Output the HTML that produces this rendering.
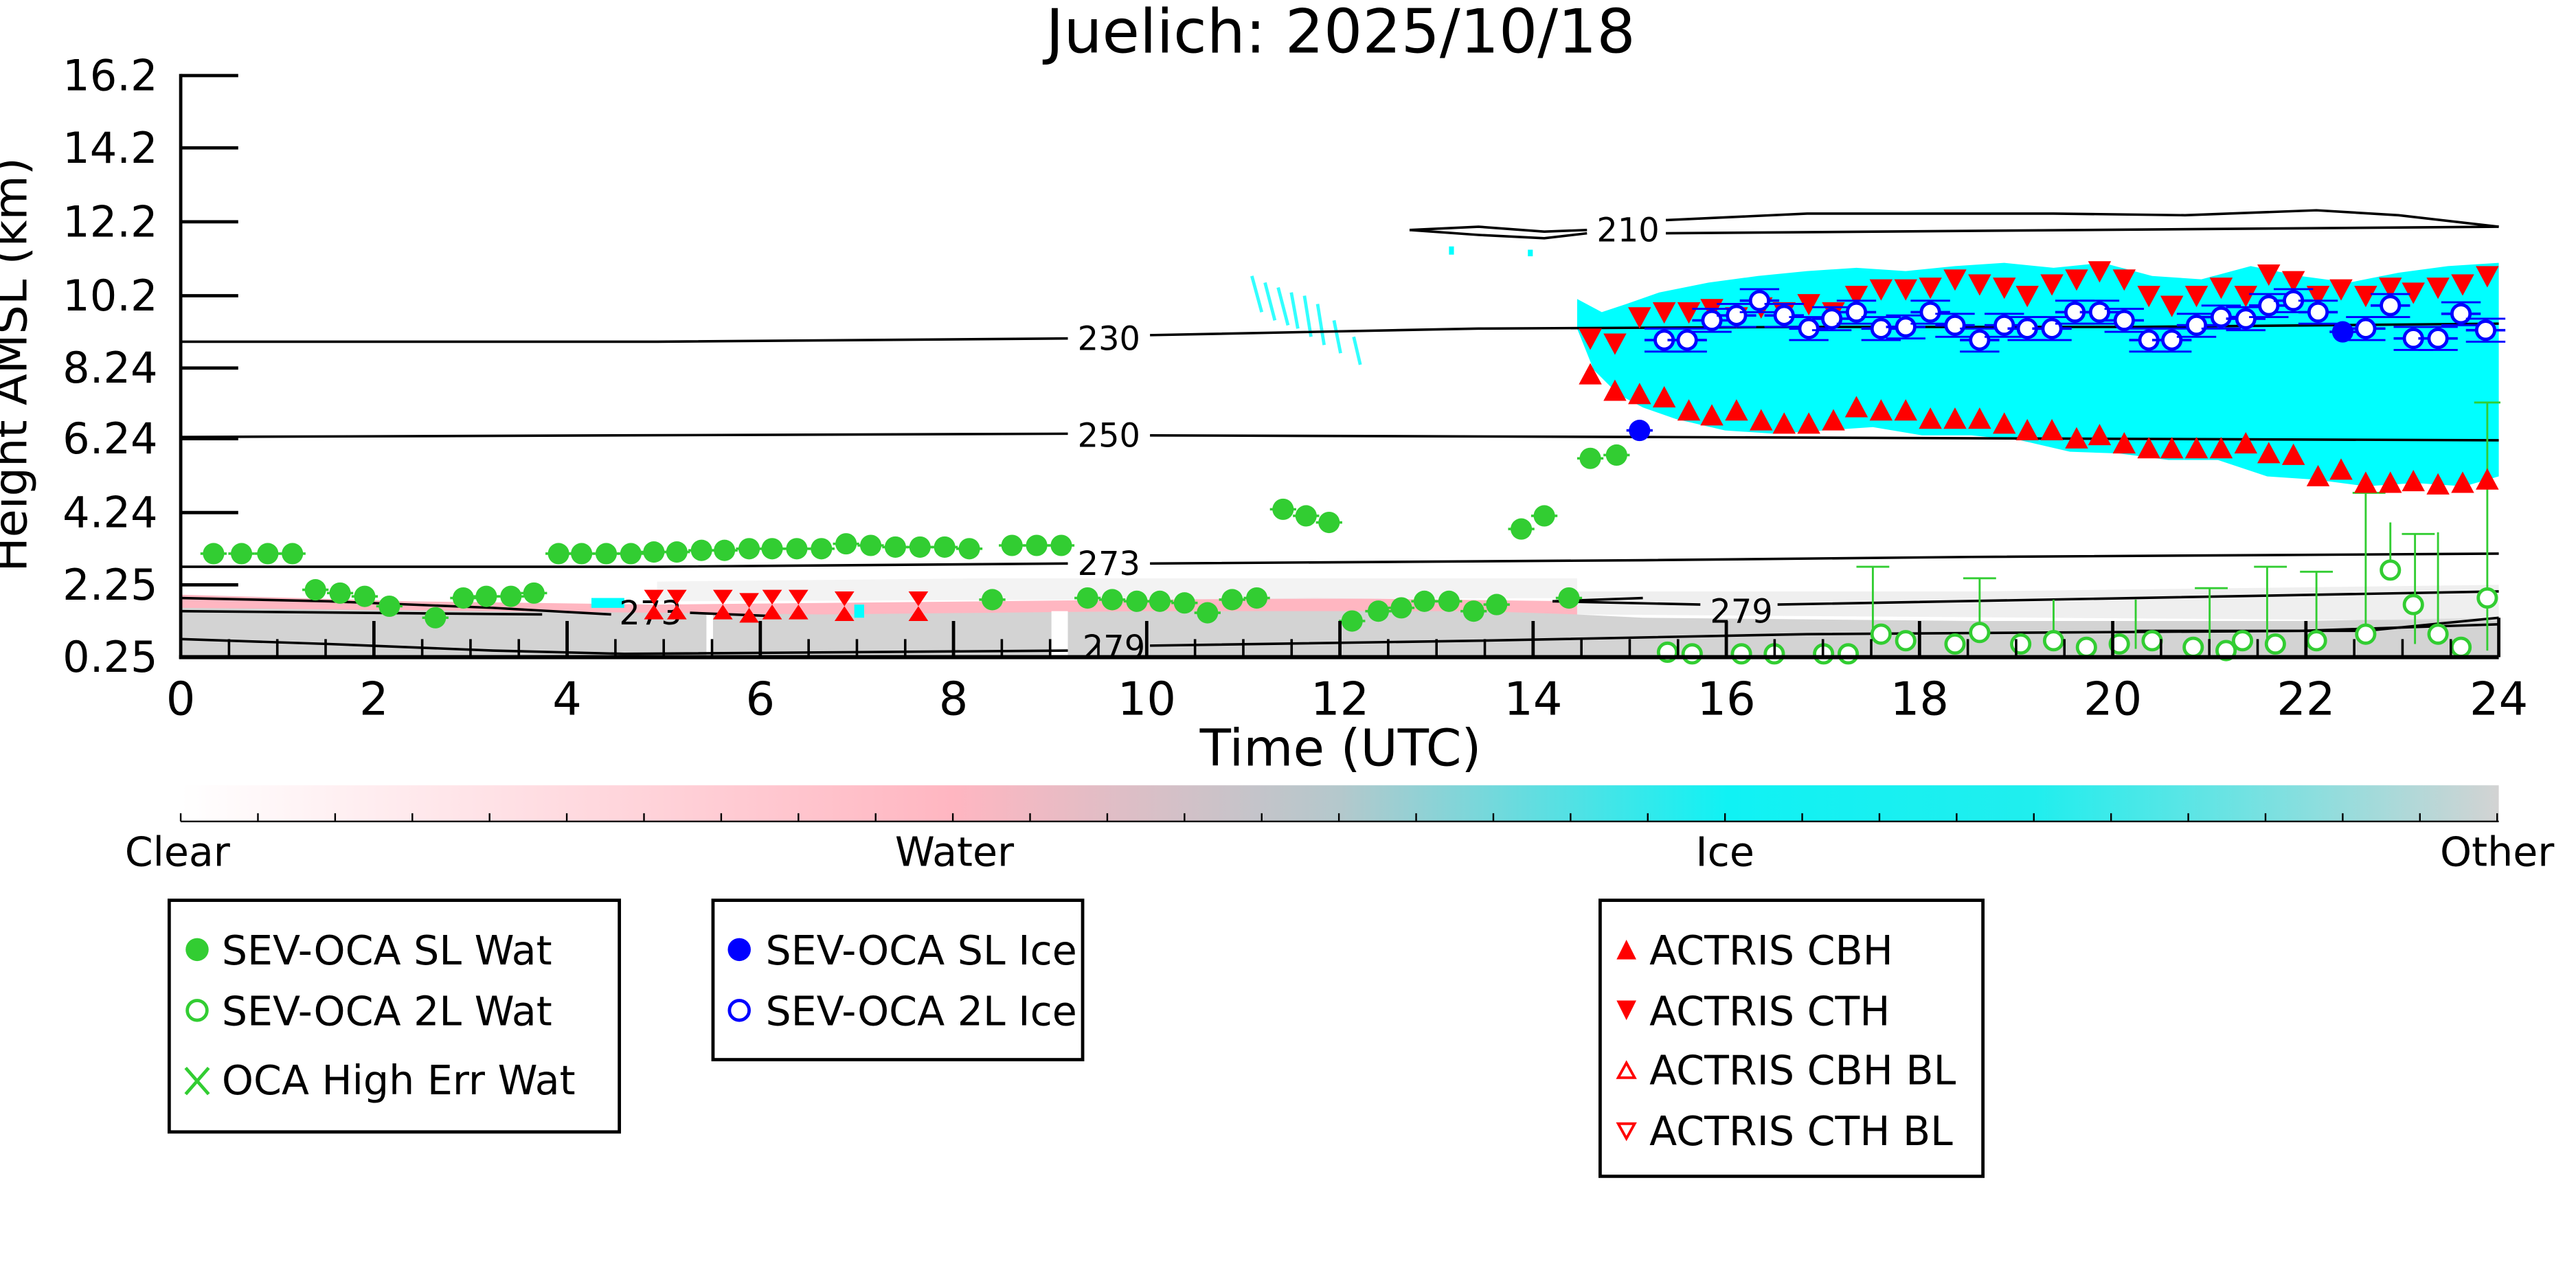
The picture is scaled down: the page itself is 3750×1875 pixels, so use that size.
<!DOCTYPE html>
<html><head><meta charset="utf-8"><style>
html,body{margin:0;padding:0;background:#fff;}
svg{display:block;}
text{font-family:"DejaVu Sans","Liberation Sans",sans-serif;}
</style></head><body>
<svg width="3750" height="1875" viewBox="0 0 1568 784" xmlns="http://www.w3.org/2000/svg">
<defs>
<linearGradient id="cb" x1="0" x2="1" y1="0" y2="0">
<stop offset="0" stop-color="#ffffff"/>
<stop offset="0.333" stop-color="#ffb6c1"/>
<stop offset="0.5" stop-color="#b4c8cc"/>
<stop offset="0.667" stop-color="#10f2f4"/>
<stop offset="0.8" stop-color="#20eeee"/>
<stop offset="1" stop-color="#d3d3d3"/>
</linearGradient>
<g id="gf"><line x1="-8" x2="8" y1="0" y2="0" stroke="#32cd32" stroke-width="1.5"/><circle r="6.5" fill="#32cd32"/></g>
<g id="bo"><line x1="-12" x2="12" y1="0" y2="0" stroke="#0000ff" stroke-width="1.5"/><line x1="-12" x2="12" y1="-7" y2="-7" stroke="#0000ff" stroke-width="1.2"/><line x1="-12" x2="12" y1="7" y2="7" stroke="#0000ff" stroke-width="1.2"/><circle r="5.5" fill="#fff" stroke="#0000ff" stroke-width="2"/></g>
<g id="bf"><line x1="-8" x2="8" y1="0" y2="0" stroke="#0000ff" stroke-width="1.5"/><circle r="6.5" fill="#0000ff"/></g>
<path id="td" d="M-7,-6 L7,-6 L0,7 Z" fill="#ff0000"/>
<path id="tu" d="M-7,6 L7,6 L0,-7 Z" fill="#ff0000"/>
<g id="hg"><path d="M-6,-9 L6,-9 L0,0 Z M-6,9 L6,9 L0,0 Z" fill="#ff0000"/></g>
<g id="go"><circle r="5.5" fill="#fff" stroke="#32cd32" stroke-width="2"/></g>
</defs>

<text x="816" y="32" font-size="37" text-anchor="middle">Juelich: 2025/10/18</text>

<!-- ground clutter -->
<path d="M110,362 L250,366 L400,368 L600,366 L800,364 L960,366 L960,400 L110,400 Z" fill="#ffb6c1"/>
<path d="M110,370 L300,372 L500,374 L700,372 L900,372 L960,374 L1000,376 L1200,378 L1400,378 L1521,376 L1521,400 L110,400 Z" fill="#d3d3d3"/>
<path d="M960,360 L1200,360 L1521,356 L1521,378 L960,374 Z" fill="#e4e4e4" opacity="0.6"/>
<path d="M400,354 L600,352 L960,352 L960,364 L400,366 Z" fill="#eeeeee" opacity="0.7"/>
<rect x="640" y="372" width="10" height="28" fill="#ffffff"/>
<rect x="430" y="374" width="4" height="26" fill="#ffffff"/>
<rect x="360" y="364" width="20" height="6" fill="#00ffff"/>
<rect x="520" y="368" width="6" height="8" fill="#00ffff"/>

<!-- cyan cloud -->
<path d="M960,182 L975,190 L990,185 L1010,178 L1040,172 L1070,168 L1100,165 L1130,163 L1160,165 L1190,162 L1220,160 L1250,163 L1280,160 L1310,168 L1340,170 L1370,162 L1400,168 L1430,172 L1460,166 L1490,162 L1521,160 L1521,290 L1500,296 L1470,294 L1440,296 L1410,292 L1380,290 L1350,280 L1320,280 L1290,276 L1260,275 L1230,268 L1200,265 L1170,265 L1140,260 L1110,262 L1080,264 L1050,262 L1020,255 L1000,248 L985,240 L970,225 L960,200 Z" fill="#00ffff"/>
<g stroke="#00ffff" stroke-width="2" opacity="0.8">
<path d="M762,168 L768,190 M770,172 L776,195 M778,175 L784,198 M786,178 L790,200 M794,180 L798,205 M802,185 L806,210 M812,195 L816,215 M824,205 L828,222"/>
</g>
<rect x="882" y="150" width="3" height="5" fill="#00ffff"/>
<rect x="930" y="152" width="3" height="4" fill="#00ffff"/>

<!-- contours -->
<g fill="none" stroke="#000" stroke-width="1.5">
<path d="M858,140 L900,138 L940,141 L966,140"/>
<path d="M858,140 L900,143 L940,145 L966,142"/>
<path d="M1014,134 L1100,130 L1250,130 L1330,131 L1410,128 L1460,131 L1521,138"/>
<path d="M1014,142 L1521,138"/>
<path d="M110,208 L400,208 L650,206"/>
<path d="M700,204 L900,200 L1100,199 L1300,199 L1521,197"/>
<path d="M110,266 L650,264"/>
<path d="M700,265 L1000,266 L1521,268"/>
<path d="M110,345 L400,345 L650,343"/>
<path d="M700,343 L1000,341 L1200,339 L1521,337"/>
<path d="M110,364 L200,366 L300,370 L372,374"/>
<path d="M420,373 L470,375"/>
<path d="M110,372 L330,374"/>
<path d="M945,366 L1035,368"/>
<path d="M1082,368 L1300,364 L1521,360"/>
<path d="M945,366 L1000,364"/>
<path d="M110,389 L200,392 L300,396 L380,398 L650,396"/>
<path d="M700,393 L900,390 L1100,386 L1400,384 L1521,380"/>
<path d="M1300,384 L1440,384 L1521,376"/>
</g>
<g font-size="20" text-anchor="middle">
<text x="991" y="147">210</text>
<text x="675" y="213">230</text>
<text x="675" y="272">250</text>
<text x="675" y="350">273</text>
<text x="396" y="380">273</text>
<text x="1060" y="379">279</text>
<text x="678" y="401">279</text>
</g>

<!-- green open circles with bars -->
<g stroke="#32cd32" stroke-width="1.2" fill="none">
<path d="M1140,345 V390 M1130,345 H1150 M1205,352 V390 M1195,352 H1215 M1250,365 V395 M1300,365 V395 M1380,345 V392 M1372,345 H1392 M1440,300 V385 M1432,300 H1452 M1455,318 V345 M1470,325 V392 M1462,325 H1482 M1484,324 V388 M1514,245 V396 M1506,245 H1522 M1410,348 V392 M1400,348 H1420 M1345,358 V392 M1336,358 H1356"/>
</g>
<g>
<use href="#go" x="1015" y="397"/><use href="#go" x="1030" y="398"/><use href="#go" x="1060" y="398"/><use href="#go" x="1080" y="398"/>
<use href="#go" x="1110" y="398"/><use href="#go" x="1125" y="398"/><use href="#go" x="1145" y="386"/><use href="#go" x="1160" y="390"/>
<use href="#go" x="1190" y="392"/><use href="#go" x="1205" y="385"/><use href="#go" x="1230" y="392"/><use href="#go" x="1250" y="390"/>
<use href="#go" x="1270" y="394"/><use href="#go" x="1290" y="392"/><use href="#go" x="1310" y="390"/><use href="#go" x="1335" y="394"/>
<use href="#go" x="1355" y="396"/><use href="#go" x="1365" y="390"/><use href="#go" x="1385" y="392"/><use href="#go" x="1410" y="390"/>
<use href="#go" x="1440" y="386"/><use href="#go" x="1455" y="347"/><use href="#go" x="1469" y="368"/><use href="#go" x="1484" y="386"/><use href="#go" x="1498" y="394"/><use href="#go" x="1514" y="364"/>
</g>

<!-- green filled -->
<g>
<use href="#gf" x="130" y="337"/><use href="#gf" x="147" y="337"/><use href="#gf" x="163" y="337"/><use href="#gf" x="178" y="337"/>
<use href="#gf" x="192" y="359"/><use href="#gf" x="207" y="361"/><use href="#gf" x="222" y="363"/><use href="#gf" x="237" y="369"/>
<use href="#gf" x="265" y="376"/><use href="#gf" x="282" y="364"/><use href="#gf" x="296" y="363"/><use href="#gf" x="311" y="363"/><use href="#gf" x="325" y="361"/>
<use href="#gf" x="340" y="337"/><use href="#gf" x="354" y="337"/><use href="#gf" x="369" y="337"/><use href="#gf" x="384" y="337"/><use href="#gf" x="398" y="336"/><use href="#gf" x="412" y="336"/><use href="#gf" x="427" y="335"/><use href="#gf" x="441" y="335"/><use href="#gf" x="456" y="334"/><use href="#gf" x="470" y="334"/><use href="#gf" x="485" y="334"/><use href="#gf" x="500" y="334"/><use href="#gf" x="515" y="331"/><use href="#gf" x="530" y="332"/><use href="#gf" x="545" y="333"/><use href="#gf" x="560" y="333"/><use href="#gf" x="575" y="333"/><use href="#gf" x="590" y="334"/>
<use href="#gf" x="604" y="365"/><use href="#gf" x="616" y="332"/><use href="#gf" x="631" y="332"/><use href="#gf" x="646" y="332"/>
<use href="#gf" x="662" y="364"/><use href="#gf" x="677" y="365"/><use href="#gf" x="692" y="366"/><use href="#gf" x="706" y="366"/><use href="#gf" x="721" y="367"/><use href="#gf" x="735" y="373"/><use href="#gf" x="750" y="365"/><use href="#gf" x="765" y="364"/>
<use href="#gf" x="781" y="310"/><use href="#gf" x="795" y="314"/><use href="#gf" x="809" y="318"/>
<use href="#gf" x="823" y="378"/><use href="#gf" x="839" y="372"/><use href="#gf" x="853" y="370"/><use href="#gf" x="867" y="366"/><use href="#gf" x="882" y="366"/><use href="#gf" x="897" y="372"/><use href="#gf" x="911" y="368"/>
<use href="#gf" x="926" y="322"/><use href="#gf" x="940" y="314"/><use href="#gf" x="955" y="364"/>
<use href="#gf" x="968" y="279"/><use href="#gf" x="984" y="277"/>
</g>

<!-- red hourglasses low -->
<g>
<use href="#hg" x="398" y="368"/><use href="#hg" x="412" y="368"/><use href="#hg" x="440" y="368"/><use href="#hg" x="456" y="370"/><use href="#hg" x="470" y="368"/><use href="#hg" x="486" y="368"/><use href="#hg" x="514" y="369"/><use href="#hg" x="559" y="369"/>
</g>

<!-- red CTH / CBH -->
<g>
<use href="#td" x="968" y="206"/><use href="#td" x="983" y="209"/><use href="#td" x="998" y="193"/><use href="#td" x="1013" y="190"/><use href="#td" x="1028" y="190"/><use href="#td" x="1042" y="188"/><use href="#td" x="1057" y="193"/><use href="#td" x="1072" y="187"/><use href="#td" x="1086" y="190"/><use href="#td" x="1101" y="185"/><use href="#td" x="1116" y="190"/><use href="#td" x="1130" y="180"/><use href="#td" x="1145" y="176"/><use href="#td" x="1160" y="176"/><use href="#td" x="1175" y="175"/><use href="#td" x="1190" y="170"/><use href="#td" x="1205" y="173"/><use href="#td" x="1220" y="175"/><use href="#td" x="1234" y="180"/><use href="#td" x="1249" y="173"/><use href="#td" x="1264" y="170"/><use href="#td" x="1278" y="165"/><use href="#td" x="1293" y="170"/><use href="#td" x="1308" y="180"/><use href="#td" x="1322" y="186"/><use href="#td" x="1337" y="180"/><use href="#td" x="1352" y="175"/><use href="#td" x="1367" y="180"/><use href="#td" x="1381" y="167"/><use href="#td" x="1396" y="171"/><use href="#td" x="1411" y="180"/><use href="#td" x="1425" y="176"/><use href="#td" x="1440" y="180"/><use href="#td" x="1455" y="175"/><use href="#td" x="1469" y="178"/><use href="#td" x="1484" y="175"/><use href="#td" x="1499" y="173"/><use href="#td" x="1514" y="168"/>
<use href="#tu" x="968" y="228"/><use href="#tu" x="983" y="238"/><use href="#tu" x="998" y="240"/><use href="#tu" x="1013" y="242"/><use href="#tu" x="1028" y="250"/><use href="#tu" x="1042" y="253"/><use href="#tu" x="1057" y="250"/><use href="#tu" x="1072" y="256"/><use href="#tu" x="1086" y="258"/><use href="#tu" x="1101" y="258"/><use href="#tu" x="1116" y="256"/><use href="#tu" x="1130" y="248"/><use href="#tu" x="1145" y="250"/><use href="#tu" x="1160" y="250"/><use href="#tu" x="1175" y="255"/><use href="#tu" x="1190" y="255"/><use href="#tu" x="1205" y="255"/><use href="#tu" x="1220" y="258"/><use href="#tu" x="1234" y="262"/><use href="#tu" x="1249" y="262"/><use href="#tu" x="1264" y="267"/><use href="#tu" x="1278" y="265"/><use href="#tu" x="1293" y="270"/><use href="#tu" x="1308" y="273"/><use href="#tu" x="1322" y="273"/><use href="#tu" x="1337" y="273"/><use href="#tu" x="1352" y="273"/><use href="#tu" x="1367" y="270"/><use href="#tu" x="1381" y="276"/><use href="#tu" x="1396" y="277"/><use href="#tu" x="1411" y="290"/><use href="#tu" x="1425" y="286"/><use href="#tu" x="1440" y="294"/><use href="#tu" x="1455" y="294"/><use href="#tu" x="1469" y="293"/><use href="#tu" x="1484" y="295"/><use href="#tu" x="1499" y="294"/><use href="#tu" x="1514" y="292"/>
</g>

<!-- blue -->
<g>
<use href="#bf" x="998" y="262"/><use href="#bf" x="1426" y="202"/>
<use href="#bo" x="1013" y="207"/><use href="#bo" x="1027" y="207"/><use href="#bo" x="1042" y="195"/><use href="#bo" x="1057" y="192"/><use href="#bo" x="1071" y="183"/><use href="#bo" x="1086" y="192"/><use href="#bo" x="1101" y="200"/><use href="#bo" x="1115" y="194"/><use href="#bo" x="1130" y="190"/><use href="#bo" x="1145" y="200"/><use href="#bo" x="1160" y="199"/><use href="#bo" x="1175" y="190"/><use href="#bo" x="1190" y="198"/><use href="#bo" x="1205" y="207"/><use href="#bo" x="1220" y="198"/><use href="#bo" x="1234" y="200"/><use href="#bo" x="1249" y="200"/><use href="#bo" x="1263" y="190"/><use href="#bo" x="1278" y="190"/><use href="#bo" x="1293" y="195"/><use href="#bo" x="1308" y="207"/><use href="#bo" x="1322" y="207"/><use href="#bo" x="1337" y="198"/><use href="#bo" x="1352" y="193"/><use href="#bo" x="1367" y="194"/><use href="#bo" x="1381" y="186"/><use href="#bo" x="1396" y="183"/><use href="#bo" x="1411" y="190"/><use href="#bo" x="1440" y="200"/><use href="#bo" x="1455" y="186"/><use href="#bo" x="1469" y="206"/><use href="#bo" x="1484" y="206"/><use href="#bo" x="1498" y="191"/><use href="#bo" x="1513" y="201"/>
</g>

<!-- axes -->
<g stroke="#000" fill="none">
<line x1="110" y1="45" x2="110" y2="401" stroke-width="2"/>
<line x1="109" y1="400" x2="1521" y2="400" stroke-width="2.5"/>
<path d="M110,46H145 M110,90H145 M110,135H145 M110,180H145 M110,224H145 M110,267H145 M110,312H145 M110,356H145" stroke-width="2"/>
<path d="M139.4,400v-11 M168.8,400v-11 M198.2,400v-11 M257,400v-11 M286.4,400v-11 M315.8,400v-11 M374.6,400v-11 M404,400v-11 M433.4,400v-11 M492.2,400v-11 M521.6,400v-11 M551,400v-11 M609.8,400v-11 M639.2,400v-11 M668.6,400v-11 M727.4,400v-11 M756.8,400v-11 M786.2,400v-11 M845,400v-11 M874.4,400v-11 M903.8,400v-11 M962.6,400v-11 M992,400v-11 M1021.4,400v-11 M1080.2,400v-11 M1109.6,400v-11 M1139,400v-11 M1197.8,400v-11 M1227.2,400v-11 M1256.6,400v-11 M1315.4,400v-11 M1344.8,400v-11 M1374.2,400v-11 M1433,400v-11 M1462.4,400v-11 M1491.8,400v-11" stroke-width="1.5"/>
<path d="M227.6,400v-22 M345.2,400v-22 M462.8,400v-22 M580.4,400v-22 M698,400v-22 M815.6,400v-22 M933.2,400v-22 M1050.8,400v-22 M1168.4,400v-22 M1286,400v-22 M1403.6,400v-22 M1521,400v-24" stroke-width="2"/>
</g>
<g font-size="26" text-anchor="end">
<text x="96" y="55">16.2</text><text x="96" y="99">14.2</text><text x="96" y="144">12.2</text><text x="96" y="189">10.2</text><text x="96" y="233">8.24</text><text x="96" y="276">6.24</text><text x="96" y="321">4.24</text><text x="96" y="365">2.25</text><text x="96" y="409">0.25</text>
</g>
<g font-size="28" text-anchor="middle">
<text x="110" y="435">0</text><text x="227.6" y="435">2</text><text x="345.2" y="435">4</text><text x="462.8" y="435">6</text><text x="580.4" y="435">8</text><text x="698" y="435">10</text><text x="815.6" y="435">12</text><text x="933.2" y="435">14</text><text x="1050.8" y="435">16</text><text x="1168.4" y="435">18</text><text x="1286" y="435">20</text><text x="1403.6" y="435">22</text><text x="1521" y="435">24</text>
</g>
<text x="816" y="466" font-size="31" text-anchor="middle">Time (UTC)</text>
<text transform="translate(16,222) rotate(-90)" font-size="28" text-anchor="middle">Height AMSL (km)</text>

<!-- colorbar -->
<rect x="110" y="478" width="1411" height="22" fill="url(#cb)"/>
<path d="M110,500v-5 M157,500v-5 M204,500v-5 M251,500v-5 M298,500v-5 M345,500v-5 M392,500v-5 M439,500v-5 M486,500v-5 M533,500v-5 M580,500v-5 M627,500v-5 M674,500v-5 M721,500v-5 M768,500v-5 M815,500v-5 M862,500v-5 M909,500v-5 M956,500v-5 M1003,500v-5 M1050,500v-5 M1097,500v-5 M1144,500v-5 M1191,500v-5 M1238,500v-5 M1285,500v-5 M1332,500v-5 M1379,500v-5 M1426,500v-5 M1473,500v-5 M1520,500v-5" stroke="#000" stroke-width="1"/>
<line x1="110" y1="500" x2="1521" y2="500" stroke="#000" stroke-width="1"/>
<g font-size="24.5" text-anchor="middle">
<text x="108" y="527">Clear</text><text x="581" y="527">Water</text><text x="1050" y="527">Ice</text><text x="1520" y="527">Other</text>
</g>

<!-- legends -->
<g fill="none" stroke="#000" stroke-width="2">
<rect x="103" y="548" width="274" height="141"/>
<rect x="434" y="548" width="225" height="97"/>
<rect x="974" y="548" width="233" height="168"/>
</g>
<g font-size="24.5">
<circle cx="120" cy="578" r="7" fill="#32cd32"/><text x="135" y="587">SEV-OCA SL Wat</text>
<circle cx="120" cy="615" r="6" fill="none" stroke="#32cd32" stroke-width="2"/><text x="135" y="624">SEV-OCA 2L Wat</text>
<path d="M113,650 L127,666 M127,650 L113,666" stroke="#32cd32" stroke-width="2"/><text x="135" y="666">OCA High Err Wat</text>
<circle cx="450" cy="578" r="7" fill="#0000ff"/><text x="466" y="587">SEV-OCA SL Ice</text>
<circle cx="450" cy="615" r="6" fill="none" stroke="#0000ff" stroke-width="2"/><text x="466" y="624">SEV-OCA 2L Ice</text>
<path d="M984,584 L996,584 L990,572 Z" fill="#ff0000"/><text x="1004" y="587">ACTRIS CBH</text>
<path d="M984,609 L996,609 L990,621 Z" fill="#ff0000"/><text x="1004" y="624">ACTRIS CTH</text>
<path d="M985,656 L995,656 L990,647 Z" fill="none" stroke="#ff0000" stroke-width="1.6"/><text x="1004" y="660">ACTRIS CBH BL</text>
<path d="M985,684 L995,684 L990,693 Z" fill="none" stroke="#ff0000" stroke-width="1.6"/><text x="1004" y="697">ACTRIS CTH BL</text>
</g>
</svg>
</body></html>
